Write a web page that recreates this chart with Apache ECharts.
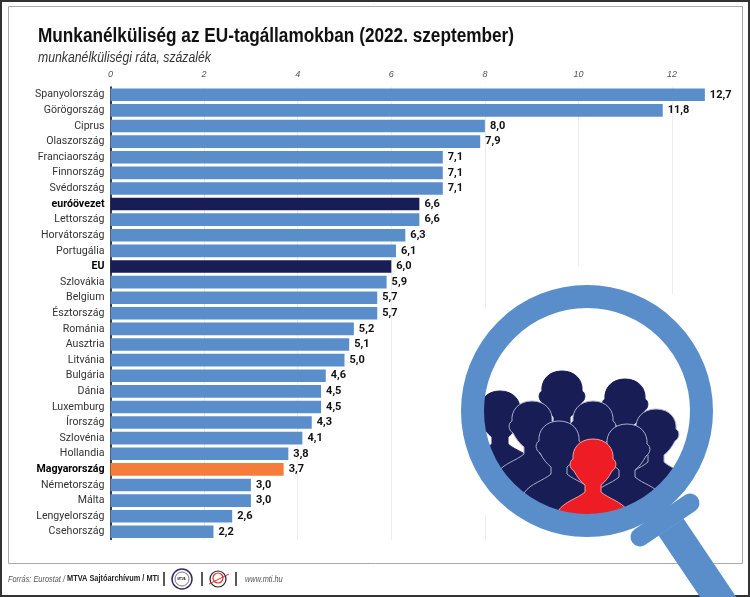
<!DOCTYPE html>
<html>
<head>
<meta charset="utf-8">
<style>
  html, body { margin: 0; padding: 0; background: #fff; }
  #chart { width: 750px; height: 597px; }
</style>
<script src="https://cdn.jsdelivr.net/npm/echarts@6/dist/echarts.min.js"></script>
</head>
<body>
<div id="chart"></div>
<script>
const countries = ["Spanyolország", "Görögország", "Ciprus", "Olaszország", "Franciaország", "Finnország", "Svédország", "euróövezet", "Lettország", "Horvátország", "Portugália", "EU", "Szlovákia", "Belgium", "Észtország", "Románia", "Ausztria", "Litvánia", "Bulgária", "Dánia", "Luxemburg", "Írország", "Szlovénia", "Hollandia", "Magyarország", "Németország", "Málta", "Lengyelország", "Csehország"];
const rates = [12.7, 11.8, 8.0, 7.9, 7.1, 7.1, 7.1, 6.6, 6.6, 6.3, 6.1, 6.0, 5.9, 5.7, 5.7, 5.2, 5.1, 5.0, 4.6, 4.5, 4.5, 4.3, 4.1, 3.8, 3.7, 3.0, 3.0, 2.6, 2.2];
const darkRows = ["euróövezet", "EU"];
const orangeRows = ["Magyarország"];

const BLUE = "#5a8ecb", NAVY = "#191d56", ORANGE = "#f47d3b", RED = "#ee1c25";
const FONT = '"Liberation Sans", Arial, sans-serif';
const LABEL_FONT = 'Roboto, "Liberation Sans", Arial, sans-serif';

function barColor(name) {
  if (darkRows.includes(name)) return NAVY;
  if (orangeRows.includes(name)) return ORANGE;
  return BLUE;
}

// fej + vall sziluett, a fej kozeppontja a (0,0)
const Person = echarts.graphic.extendShape({
  shape: {},
  buildPath(ctx) {
    ctx.moveTo(0, -24);
    ctx.bezierCurveTo(14, -24, 21, -14, 20, -4);
    ctx.bezierCurveTo(24, -2, 24, 5, 19, 8);
    ctx.bezierCurveTo(16, 14, 12, 19, 8, 22);
    ctx.lineTo(8, 29);
    ctx.bezierCurveTo(16, 36, 28, 38, 35, 48);
    ctx.lineTo(35, 110);
    ctx.lineTo(-35, 110);
    ctx.lineTo(-35, 48);
    ctx.bezierCurveTo(-28, 38, -16, 36, -8, 29);
    ctx.lineTo(-8, 22);
    ctx.bezierCurveTo(-12, 19, -16, 14, -19, 8);
    ctx.bezierCurveTo(-24, 5, -24, -2, -20, -4);
    ctx.bezierCurveTo(-21, -14, -14, -24, 0, -24);
    ctx.closePath();
  }
});

function person(x, y, fill, stroke) {
  return new Person({
    x: x,
    y: y,
    z: 11,
    silent: true,
    style: { fill: fill, stroke: stroke, lineWidth: 1 }
  });
}

function txt(x, y, text, font, fill, extra) {
  return Object.assign({
    type: "text",
    x: x,
    y: y,
    style: { text: text, font: font, fill: fill, textVerticalAlign: "middle" }
  }, extra || {});
}

const chart = echarts.init(document.getElementById("chart"), null, { renderer: "canvas" });

chart.setOption({
  animation: false,
  backgroundColor: "#fff",
  grid: { left: 110.5, top: 87, width: 608.4, height: 452.6, containLabel: false },
  xAxis: {
    type: "value",
    position: "top",
    min: 0,
    max: 13,
    interval: 2,
    axisLine: { show: false },
    axisTick: { show: false },
    splitLine: { showMaxLine: false, lineStyle: { color: "#ececec", width: 1 } },
    axisLabel: {
      margin: 8,
      fontFamily: FONT,
      fontStyle: "italic",
      fontSize: 9,
      color: "#555",
      showMaxLabel: false
    }
  },
  yAxis: {
    type: "category",
    inverse: true,
    data: countries.map((name) => ({
      value: name,
      textStyle: (darkRows.includes(name) || orangeRows.includes(name))
        ? { fontWeight: "bold", color: "#000" }
        : {}
    })),
    axisLine: { lineStyle: { color: "#000", width: 1.5 } },
    axisTick: { show: false },
    axisLabel: { margin: 6, fontFamily: LABEL_FONT, fontSize: 10.6, color: "#333" }
  },
  series: [{
    type: "bar",
    barWidth: 12.6,
    data: rates.map((v, i) => ({ value: v, itemStyle: { color: barColor(countries[i]) } })),
    label: {
      show: true,
      position: "right",
      distance: 5,
      fontFamily: LABEL_FONT,
      fontWeight: "bold",
      fontSize: 11,
      color: "#111",
      formatter: (p) => p.value.toFixed(1).replace(".", ",")
    }
  }],
  graphic: [
    // keretek
    { type: "rect", shape: { x: 1, y: 1, width: 748, height: 595 }, style: { fill: "none", stroke: "#333", lineWidth: 2 } },
    { type: "rect", shape: { x: 8.5, y: 6.5, width: 734, height: 557 }, style: { fill: "none", stroke: "#aaa", lineWidth: 1 } },

    txt(38, 36, "Munkanélküliség az EU-tagállamokban (2022. szeptember)", `bold 20px ${FONT}`, "#111", { scaleX: 0.86 }),
    txt(38, 58, "munkanélküliségi ráta, százalék", `italic 14px ${FONT}`, "#333", { scaleX: 0.875 }),

    // feher udvar a racsvonalak folott
    { type: "circle", z: 10, shape: { cx: 587, cy: 411, r: 145 }, style: { fill: "#fff" } },

    // nagyito
    { type: "line", z: 12, shape: { x1: 671, y1: 527, x2: 735, y2: 622 }, style: { stroke: BLUE, lineWidth: 30 } },
    { type: "line", z: 12, shape: { x1: 690, y1: 503, x2: 640, y2: 537 }, style: { stroke: BLUE, lineWidth: 19, lineCap: "round" } },
    { type: "circle", z: 12, shape: { cx: 587, cy: 411, r: 114.5 }, style: { fill: "none", stroke: BLUE, lineWidth: 23 } },

    // lablec
    txt(8, 579, "Forrás: Eurostat /", `italic 9px ${FONT}`, "#555", { scaleX: 0.82 }),
    txt(67, 579, "MTVA Sajtóarchívum / MTI", `bold 9px ${FONT}`, "#222", { scaleX: 0.82 }),
    { type: "line", shape: { x1: 164, y1: 572, x2: 164, y2: 586 }, style: { stroke: "#222", lineWidth: 1.5 } },
    { type: "circle", shape: { cx: 182, cy: 579, r: 10 }, style: { fill: "#fff", stroke: "#3a2a66", lineWidth: 1.5 } },
    { type: "circle", shape: { cx: 182, cy: 579, r: 7 }, style: { fill: "#fff", stroke: "#555", lineWidth: 0.8 } },
    txt(177.5, 579, "MTVA", `bold 3px ${FONT}`, "#222"),
    { type: "line", shape: { x1: 202, y1: 572, x2: 202, y2: 586 }, style: { stroke: "#222", lineWidth: 1.5 } },
    { type: "circle", shape: { cx: 218, cy: 579, r: 8 }, style: { fill: "none", stroke: "#222", lineWidth: 1.2 } },
    { type: "circle", shape: { cx: 218, cy: 578, r: 5 }, style: { fill: "none", stroke: "#d8302a", lineWidth: 1.2 } },
    { type: "line", shape: { x1: 209, y1: 584, x2: 229, y2: 574 }, style: { stroke: "#d8302a", lineWidth: 1 } },
    { type: "line", shape: { x1: 236, y1: 572, x2: 236, y2: 586 }, style: { stroke: "#222", lineWidth: 1.5 } },
    txt(245, 579, "www.mti.hu", `italic 9px ${FONT}`, "#555", { scaleX: 0.82 })
  ]
});

// emberek a nagyito belsejere vagva
const crowd = new echarts.graphic.Group();
crowd.setClipPath(new echarts.graphic.Circle({ shape: { cx: 587, cy: 411, r: 106 } }));
const OUTLINE = "#a9aeca";
[
  person(500, 415, NAVY, NAVY),
  person(562, 395, NAVY, NAVY),
  person(625, 403, NAVY, NAVY),
  person(656, 433, NAVY, OUTLINE),
  person(532, 425, NAVY, OUTLINE),
  person(593, 425, NAVY, OUTLINE),
  person(559, 445, NAVY, OUTLINE),
  person(627, 448, NAVY, OUTLINE),
  person(593, 463, RED, "#f4a0a0")
].forEach((p, i) => {
  p.z2 = i;
  crowd.add(p);
});
chart.getZr().add(crowd);
</script>
</body>
</html>
